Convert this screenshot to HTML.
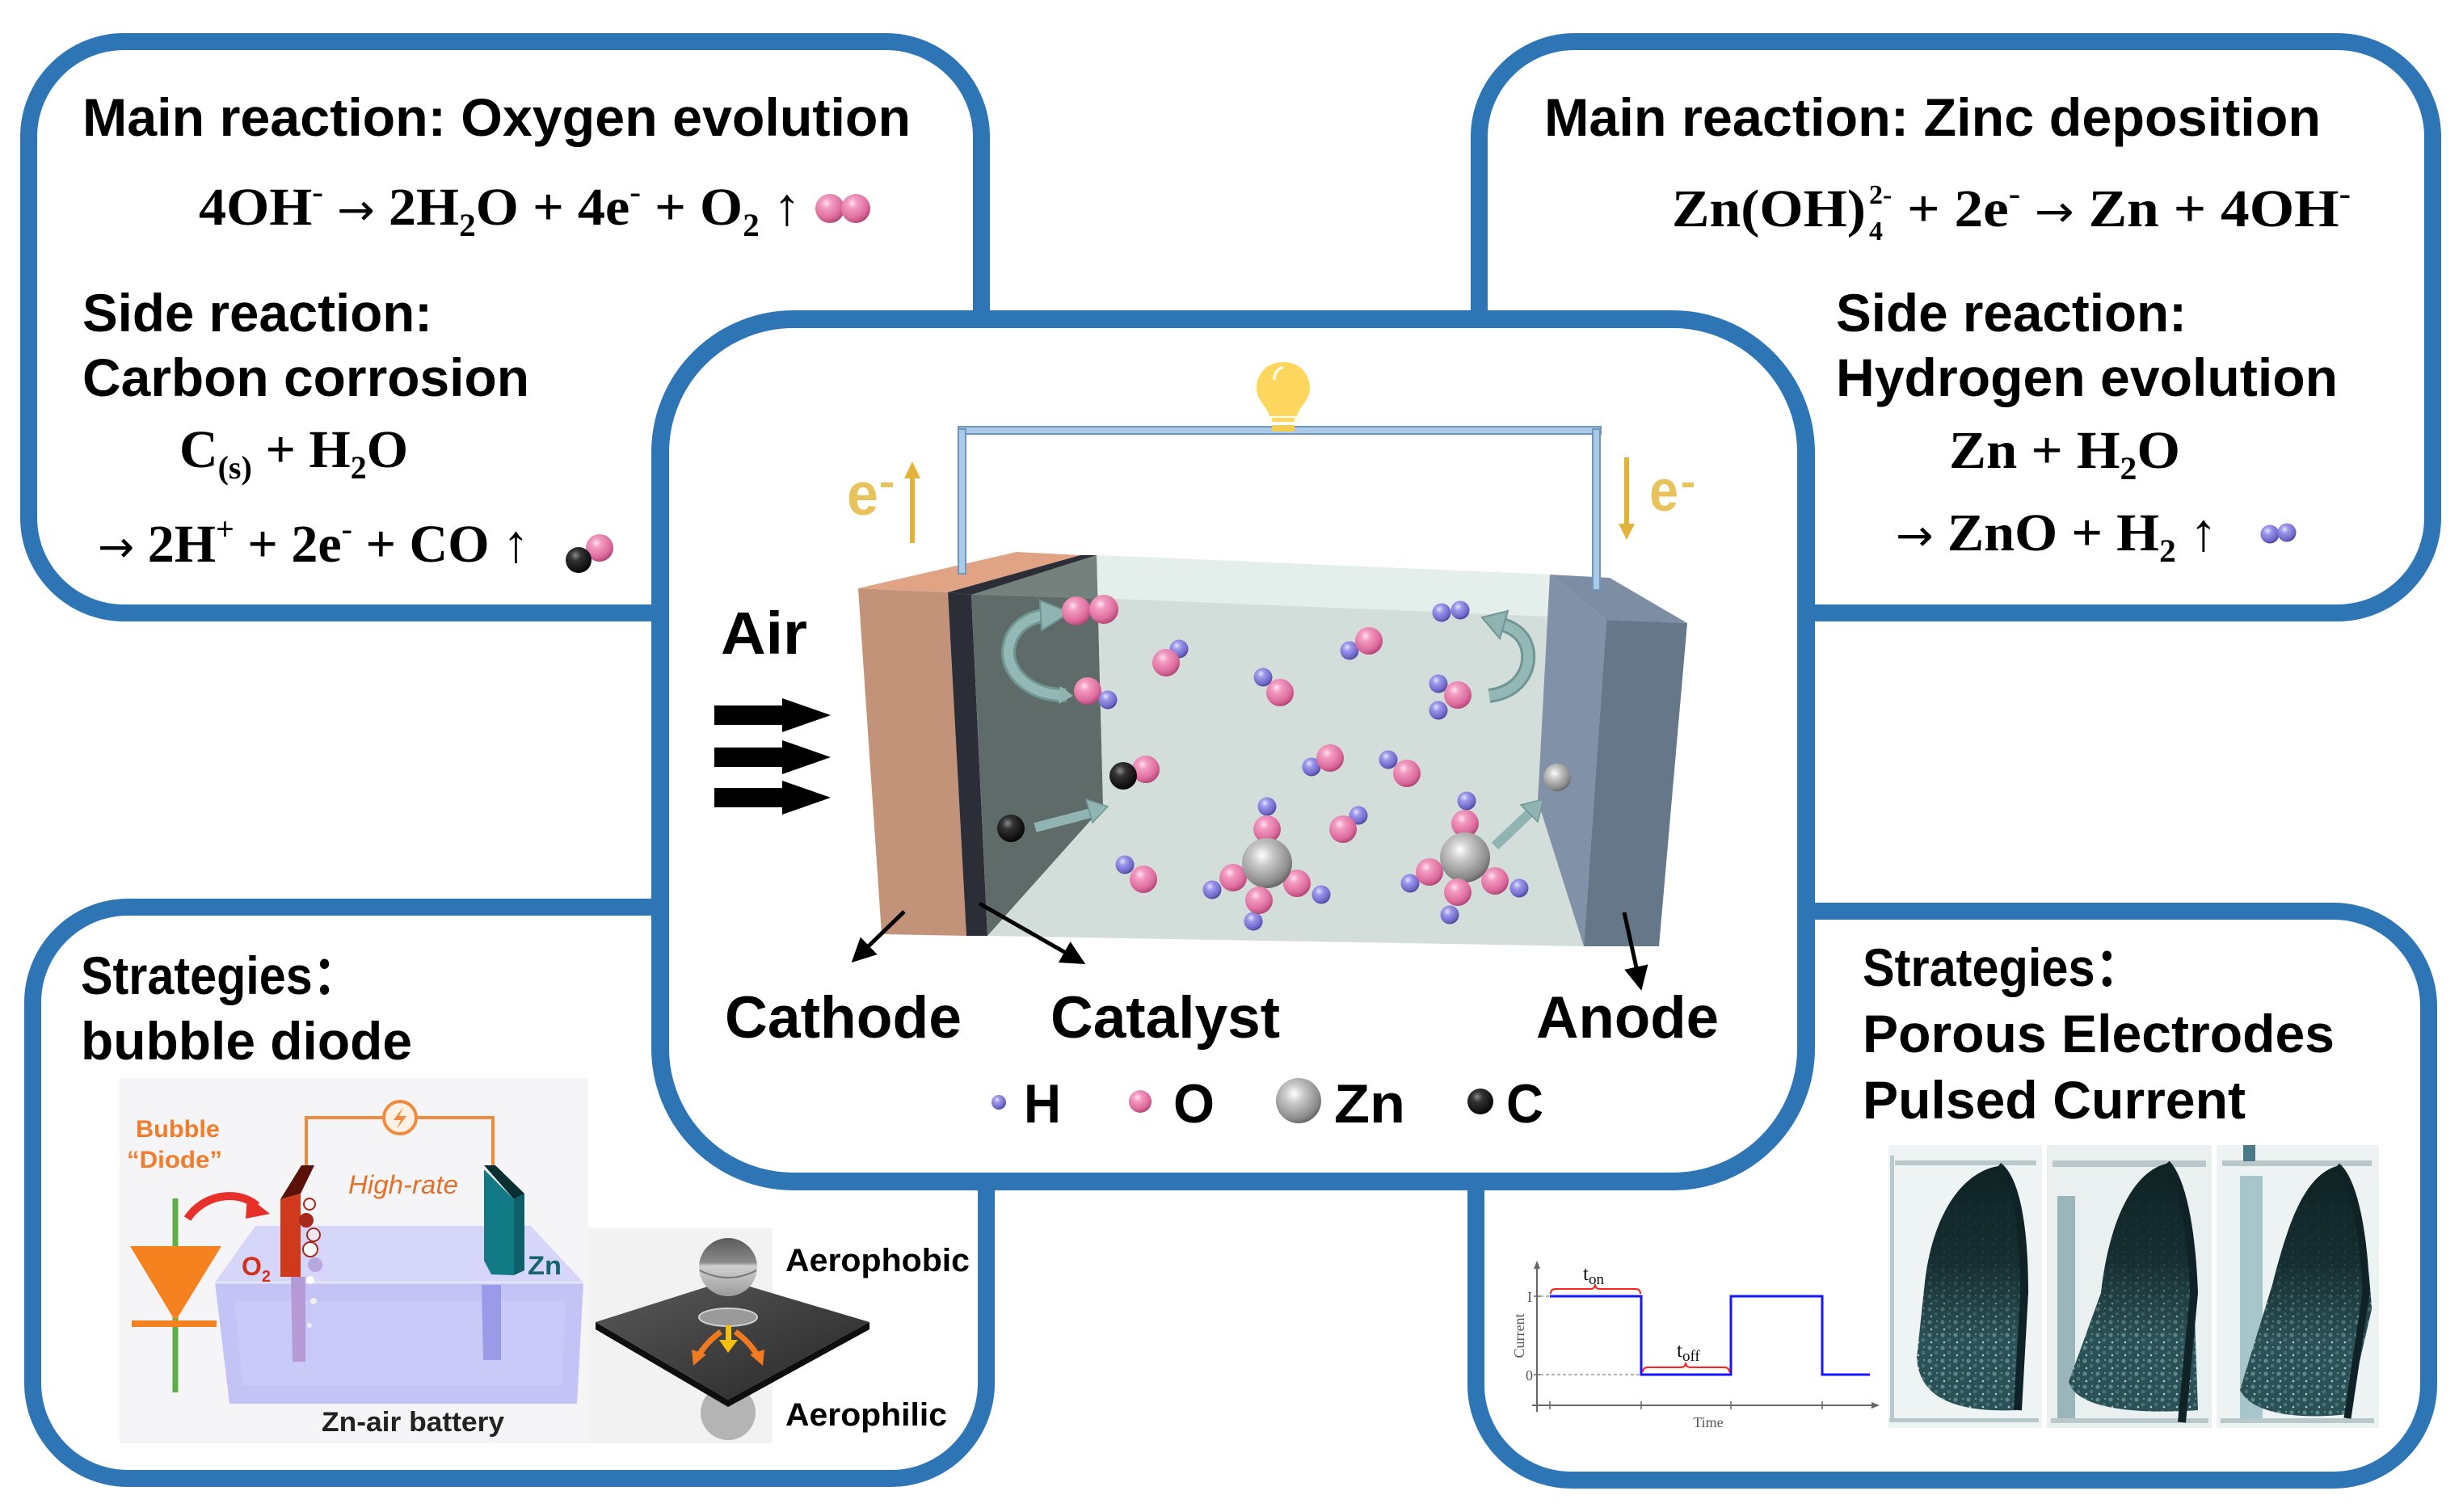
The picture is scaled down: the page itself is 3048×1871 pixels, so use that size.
<!DOCTYPE html>
<html>
<head>
<meta charset="utf-8">
<style>
html,body{margin:0;padding:0;background:#fff;}
svg{display:block;}
.h{font-family:"Liberation Sans",Arial,"Noto Sans CJK SC",sans-serif;font-weight:700;font-size:66px;fill:#000;}
.eq{font-family:"Liberation Serif","Times New Roman",serif;font-weight:700;font-size:66px;fill:#000;}
.lb{font-family:"Liberation Sans",Arial,sans-serif;font-weight:700;fill:#000;}
.sm{font-family:"Liberation Serif","Times New Roman",serif;fill:#555;}
.ar{font-family:"DejaVu Sans",sans-serif;font-weight:400;font-size:54px;}
</style>
</head>
<body>
<svg width="3048" height="1871" viewBox="0 0 3048 1871" xmlns="http://www.w3.org/2000/svg">
<defs>
  <radialGradient id="gP" cx="0.38" cy="0.32" r="0.7">
    <stop offset="0" stop-color="#ffe3f0"/><stop offset="0.25" stop-color="#f39cc2"/><stop offset="0.75" stop-color="#dc6b9c"/><stop offset="1" stop-color="#b24676"/>
  </radialGradient>
  <radialGradient id="gH" cx="0.38" cy="0.32" r="0.7">
    <stop offset="0" stop-color="#e6e4ff"/><stop offset="0.3" stop-color="#9d97ea"/><stop offset="0.8" stop-color="#6f67c8"/><stop offset="1" stop-color="#4a4396"/>
  </radialGradient>
  <radialGradient id="gC" cx="0.38" cy="0.32" r="0.7">
    <stop offset="0" stop-color="#8a8a8a"/><stop offset="0.3" stop-color="#333"/><stop offset="1" stop-color="#050505"/>
  </radialGradient>
  <radialGradient id="gZ" cx="0.4" cy="0.35" r="0.7">
    <stop offset="0" stop-color="#ffffff"/><stop offset="0.3" stop-color="#c9c9c9"/><stop offset="0.8" stop-color="#8a8a8a"/><stop offset="1" stop-color="#5a5a5a"/>
  </radialGradient>
  <linearGradient id="gSph" x1="0" y1="0" x2="0" y2="1">
    <stop offset="0" stop-color="#5a5a5a"/><stop offset="0.42" stop-color="#8a8a8a"/><stop offset="0.48" stop-color="#cfcfcf"/><stop offset="1" stop-color="#9c9c9c"/>
  </linearGradient>
  <linearGradient id="gPlate" x1="0" y1="0" x2="1" y2="1">
    <stop offset="0" stop-color="#5a5a5a"/><stop offset="1" stop-color="#262626"/>
  </linearGradient>
  <linearGradient id="gDk" x1="0" y1="0" x2="0" y2="1">
    <stop offset="0" stop-color="#0f2224" stop-opacity="1"/><stop offset="0.4" stop-color="#12282a" stop-opacity="0.85"/><stop offset="0.7" stop-color="#12282a" stop-opacity="0"/>
  </linearGradient>
  <pattern id="spk" width="16" height="16" patternUnits="userSpaceOnUse">
    <rect width="16" height="16" fill="#2b5055"/>
    <circle cx="4" cy="4" r="2.6" fill="#5a888b"/>
    <circle cx="12" cy="10" r="2.3" fill="#467377"/>
    <circle cx="6" cy="13" r="1.3" fill="#b0cccc"/>
    <circle cx="13" cy="3" r="1" fill="#84a9ab"/>
  </pattern>
  <marker id="ah" viewBox="0 0 10 10" refX="8" refY="5" markerWidth="6" markerHeight="6" orient="auto" markerUnits="strokeWidth">
    <path d="M0,0 L10,5 L0,10 z" fill="#000"/>
  </marker>
  <marker id="ahg" viewBox="0 0 10 10" refX="8" refY="5" markerWidth="5" markerHeight="5" orient="auto" markerUnits="strokeWidth">
    <path d="M0,1 L10,5 L0,9 z" fill="#666"/>
  </marker>
</defs>

<rect width="3048" height="1871" fill="#fff"/>

<!-- corner boxes -->
<g fill="#fff" stroke="#2e75b6" stroke-width="21">
  <rect x="35.5" y="51.5" width="1179" height="707" rx="118"/>
  <rect x="1830.5" y="51.5" width="1180" height="707" rx="118"/>
  <rect x="40.5" y="1122.5" width="1180" height="707" rx="118"/>
  <rect x="1826.5" y="1127.5" width="1179" height="704" rx="118"/>
</g>
<!-- center box -->
<rect x="817" y="395" width="1418" height="1067" rx="165" fill="#fff" stroke="#2e75b6" stroke-width="22"/>

<!-- ============ TOP LEFT ============ -->
<text class="h" x="102" y="168" textLength="1025" lengthAdjust="spacingAndGlyphs">Main reaction: Oxygen evolution</text>
<text class="eq" x="246" y="278" textLength="745" lengthAdjust="spacingAndGlyphs">4OH<tspan font-size="40" dy="-27">-</tspan><tspan dy="27"> </tspan><tspan class="ar">→</tspan><tspan> 2H</tspan><tspan font-size="40" dy="14">2</tspan><tspan dy="-14">O + 4e</tspan><tspan font-size="40" dy="-27">-</tspan><tspan dy="27"> + O</tspan><tspan font-size="40" dy="14">2</tspan><tspan dy="-14"> ↑</tspan></text>
<circle cx="1027" cy="258" r="18" fill="url(#gP)"/>
<circle cx="1059" cy="258" r="18" fill="url(#gP)"/>
<text class="h" x="102" y="410" textLength="433" lengthAdjust="spacingAndGlyphs">Side reaction:</text>
<text class="h" x="102" y="490" textLength="553" lengthAdjust="spacingAndGlyphs">Carbon corrosion</text>
<text class="eq" x="222" y="578" textLength="283" lengthAdjust="spacingAndGlyphs">C<tspan font-size="40" dy="14">(s)</tspan><tspan dy="-14"> + H</tspan><tspan font-size="40" dy="14">2</tspan><tspan dy="-14">O</tspan></text>
<text class="eq" x="121" y="695" textLength="534" lengthAdjust="spacingAndGlyphs"><tspan class="ar">→</tspan><tspan> 2H</tspan><tspan font-size="40" dy="-27">+</tspan><tspan dy="27"> + 2e</tspan><tspan font-size="40" dy="-27">-</tspan><tspan dy="27"> + CO ↑</tspan></text>
<circle cx="742" cy="678" r="17" fill="url(#gP)"/>
<circle cx="716" cy="693" r="16" fill="url(#gC)"/>

<!-- ============ TOP RIGHT ============ -->
<text class="h" x="1911" y="168" textLength="961" lengthAdjust="spacingAndGlyphs">Main reaction: Zinc deposition</text>
<text class="eq" x="2069" y="280" textLength="240" lengthAdjust="spacingAndGlyphs">Zn(OH)</text>
<text class="eq" x="2313" y="297" style="font-size:34px">4</text>
<text class="eq" x="2313" y="252" style="font-size:34px">2-</text>
<text class="eq" x="2360" y="280" textLength="549" lengthAdjust="spacingAndGlyphs">+ 2e<tspan font-size="40" dy="-27">-</tspan><tspan dy="27"> </tspan><tspan class="ar">→</tspan><tspan> Zn + 4OH</tspan><tspan font-size="40" dy="-27">-</tspan></text>
<text class="h" x="2272" y="410" textLength="434" lengthAdjust="spacingAndGlyphs">Side reaction:</text>
<text class="h" x="2272" y="490" textLength="621" lengthAdjust="spacingAndGlyphs">Hydrogen evolution</text>
<text class="eq" x="2412" y="579" textLength="286" lengthAdjust="spacingAndGlyphs">Zn + H<tspan font-size="40" dy="14">2</tspan><tspan dy="-14">O</tspan></text>
<text class="eq" x="2346" y="681" textLength="398" lengthAdjust="spacingAndGlyphs"><tspan class="ar">→</tspan><tspan> ZnO + H</tspan><tspan font-size="40" dy="14">2</tspan><tspan dy="-14"> ↑</tspan></text>
<circle cx="2809" cy="661" r="11.5" fill="url(#gH)"/>
<circle cx="2830" cy="659" r="11.5" fill="url(#gH)"/>

<!-- ============ CENTER CELL ============ -->
<polygon points="1357,687 1918,711 1903,991 1960,1171 1222,1158 1365,998" fill="#d3dedb"/>
<polygon points="1357,687 1918,711 1918,763 1357,740" fill="#e4efec"/>
<polygon points="1062,728 1258,683 1337,687 1173,733" fill="#e0a485"/>
<polygon points="1062,728 1173,733 1196,1158 1091,1156" fill="#c39379"/>
<polygon points="1173,733 1337,687 1357,687 1202,736" fill="#2b2e37"/>
<polygon points="1173,733 1202,736 1222,1158 1196,1158" fill="#2b2e37"/>
<polygon points="1202,736 1357,687 1365,998 1222,1158" fill="#5f6b68"/>
<polygon points="1202,736 1357,687 1358,741" fill="#74817d"/>
<polygon points="1918,711 1992,715 2088,771 1988,767" fill="#7d8da3"/>
<polygon points="1918,711 1988,767 1960,1171 1903,991" fill="#8191a7"/>
<polygon points="1988,767 2088,771 2053,1171 1960,1171" fill="#67778a"/>

<!-- wires -->
<rect x="1186" y="528" width="795" height="9" fill="#a9cbe8" stroke="#6f95bd" stroke-width="2"/>
<rect x="1186" y="531" width="9" height="179" fill="#a9cbe8" stroke="#6f95bd" stroke-width="2"/>
<rect x="1971" y="531" width="9" height="199" fill="#a9cbe8" stroke="#6f95bd" stroke-width="2"/>
<!-- bulb -->
<path d="M1588,448 C1610,448 1622,465 1621,482 C1620,496 1608,503 1605,515 L1571,515 C1568,503 1556,496 1555,482 C1554,465 1566,448 1588,448 Z" fill="#ffd75e"/>
<path d="M1577,470 C1577,460 1583,455 1588,455" stroke="#fff" stroke-width="3" fill="none"/>
<rect x="1574" y="517" width="28" height="5" rx="2" fill="#ffd75e"/>
<rect x="1574" y="526" width="28" height="8" rx="2" fill="#f3cc52"/>

<!-- electron arrows -->
<rect x="1126" y="586" width="6" height="86" fill="#e2b33a"/>
<polygon points="1119,592 1129,571 1139,592" fill="#e2b33a"/>
<text class="lb" x="1048" y="637" font-size="74" style="fill:#e8c35b" textLength="39" lengthAdjust="spacingAndGlyphs">e</text>
<rect x="1090" y="597" width="15" height="6" fill="#e8c35b"/>
<rect x="2010" y="566" width="6" height="86" fill="#e2b33a"/>
<polygon points="2003,648 2013,668 2023,648" fill="#e2b33a"/>
<text class="lb" x="2041" y="632" font-size="72" style="fill:#e8c35b" textLength="36" lengthAdjust="spacingAndGlyphs">e</text>
<rect x="2082" y="597" width="14" height="6" fill="#e8c35b"/>

<!-- curved arrows -->
<path d="M1320,860 C1275,862 1246,832 1248,805 C1250,780 1268,765 1294,761" stroke="#6f9693" stroke-width="18" fill="none"/>
<path d="M1320,860 C1275,862 1246,832 1248,805 C1250,780 1268,765 1294,761" stroke="#93b8b5" stroke-width="12" fill="none"/>
<polygon points="1287,743 1324,758 1289,780" fill="#8fb4b1" stroke="#6f9693" stroke-width="2"/>
<polygon points="1312,849 1328,861 1310,871" fill="#8fb4b1"/>
<path d="M1843,861 C1880,856 1893,830 1891,808 C1889,790 1878,779 1860,773" stroke="#6f9693" stroke-width="18" fill="none"/>
<path d="M1843,861 C1880,856 1893,830 1891,808 C1889,790 1878,779 1860,773" stroke="#93b8b5" stroke-width="12" fill="none"/>
<polygon points="1834,764 1866,756 1856,790" fill="#8fb4b1" stroke="#6f9693" stroke-width="2"/>
<line x1="1281" y1="1024" x2="1350" y2="1006" stroke="#8fb4b1" stroke-width="12"/>
<polygon points="1371,998 1344,989 1352,1018" fill="#8fb4b1" stroke="#6f9693" stroke-width="1.5"/>
<line x1="1850" y1="1047" x2="1893" y2="1006" stroke="#8fb4b1" stroke-width="12"/>
<polygon points="1910,989 1882,996 1903,1017" fill="#8fb4b1" stroke="#6f9693" stroke-width="1.5"/>

<!-- molecules -->
<g>
  <circle cx="1332" cy="756" r="18" fill="url(#gP)"/>
  <circle cx="1366" cy="754" r="18" fill="url(#gP)"/>
  <circle cx="1346" cy="855" r="17" fill="url(#gP)"/>
  <circle cx="1371" cy="866" r="11.5" fill="url(#gH)"/>
  <circle cx="1459" cy="803" r="11.5" fill="url(#gH)"/>
  <circle cx="1443" cy="820" r="17" fill="url(#gP)"/>
  <circle cx="1563" cy="838" r="11.5" fill="url(#gH)"/>
  <circle cx="1584" cy="857" r="17" fill="url(#gP)"/>
  <circle cx="1670" cy="805" r="11.5" fill="url(#gH)"/>
  <circle cx="1694" cy="793" r="17" fill="url(#gP)"/>
  <circle cx="1784" cy="758" r="11.5" fill="url(#gH)"/>
  <circle cx="1807" cy="755" r="11.5" fill="url(#gH)"/>
  <circle cx="1780" cy="846" r="11.5" fill="url(#gH)"/>
  <circle cx="1780" cy="879" r="11.5" fill="url(#gH)"/>
  <circle cx="1804" cy="860" r="17" fill="url(#gP)"/>
  <circle cx="1418" cy="952" r="17" fill="url(#gP)"/>
  <circle cx="1390" cy="960" r="17" fill="url(#gC)"/>
  <circle cx="1251" cy="1025" r="17" fill="url(#gC)"/>
  <circle cx="1623" cy="949" r="11.5" fill="url(#gH)"/>
  <circle cx="1646" cy="938" r="17" fill="url(#gP)"/>
  <circle cx="1718" cy="940" r="11.5" fill="url(#gH)"/>
  <circle cx="1741" cy="957" r="17" fill="url(#gP)"/>
  <circle cx="1927" cy="962" r="17" fill="url(#gZ)"/>
  <circle cx="1681" cy="1009" r="11.5" fill="url(#gH)"/>
  <circle cx="1662" cy="1026" r="17" fill="url(#gP)"/>
  <circle cx="1392" cy="1070" r="11.5" fill="url(#gH)"/>
  <circle cx="1415" cy="1088" r="17" fill="url(#gP)"/>
  <circle cx="1568" cy="998" r="11.5" fill="url(#gH)"/>
  <circle cx="1500" cy="1101" r="11.5" fill="url(#gH)"/>
  <circle cx="1635" cy="1107" r="11.5" fill="url(#gH)"/>
  <circle cx="1551" cy="1140" r="11.5" fill="url(#gH)"/>
  <circle cx="1568" cy="1026" r="17" fill="url(#gP)"/>
  <circle cx="1526" cy="1086" r="17" fill="url(#gP)"/>
  <circle cx="1605" cy="1093" r="17" fill="url(#gP)"/>
  <circle cx="1568" cy="1068" r="31" fill="url(#gZ)"/>
  <circle cx="1558" cy="1114" r="17" fill="url(#gP)"/>
  <circle cx="1815" cy="991" r="11.5" fill="url(#gH)"/>
  <circle cx="1745" cy="1093" r="11.5" fill="url(#gH)"/>
  <circle cx="1880" cy="1099" r="11.5" fill="url(#gH)"/>
  <circle cx="1794" cy="1132" r="11.5" fill="url(#gH)"/>
  <circle cx="1813" cy="1019" r="17" fill="url(#gP)"/>
  <circle cx="1769" cy="1079" r="17" fill="url(#gP)"/>
  <circle cx="1850" cy="1090" r="17" fill="url(#gP)"/>
  <circle cx="1813" cy="1061" r="31" fill="url(#gZ)"/>
  <circle cx="1804" cy="1104" r="17" fill="url(#gP)"/>
</g>

<!-- Air -->
<text class="lb" x="892" y="809" font-size="74" textLength="107" lengthAdjust="spacingAndGlyphs">Air</text>
<g fill="#000">
  <rect x="884" y="873" width="86" height="24"/><polygon points="968,864 1028,885 968,906"/>
  <rect x="884" y="925" width="86" height="24"/><polygon points="968,916 1028,937 968,958"/>
  <rect x="884" y="975" width="86" height="24"/><polygon points="968,966 1028,987 968,1008"/>
</g>

<!-- pointer arrows -->
<line x1="1119" y1="1128" x2="1058" y2="1187" stroke="#000" stroke-width="5" marker-end="url(#ah)"/>
<line x1="1212" y1="1118" x2="1338" y2="1190" stroke="#000" stroke-width="5" marker-end="url(#ah)"/>
<line x1="2010" y1="1129" x2="2030" y2="1220" stroke="#000" stroke-width="5" marker-end="url(#ah)"/>

<text class="lb" x="897" y="1284" font-size="73" textLength="293" lengthAdjust="spacingAndGlyphs">Cathode</text>
<text class="lb" x="1300" y="1284" font-size="73" textLength="284" lengthAdjust="spacingAndGlyphs">Catalyst</text>
<text class="lb" x="1901" y="1284" font-size="73" textLength="226" lengthAdjust="spacingAndGlyphs">Anode</text>

<!-- legend -->
<circle cx="1236" cy="1364" r="9" fill="url(#gH)"/>
<text class="lb" x="1267" y="1389" font-size="68" textLength="46" lengthAdjust="spacingAndGlyphs">H</text>
<circle cx="1411" cy="1363" r="14" fill="url(#gP)"/>
<text class="lb" x="1452" y="1389" font-size="68" textLength="51" lengthAdjust="spacingAndGlyphs">O</text>
<circle cx="1607" cy="1362" r="28" fill="url(#gZ)"/>
<text class="lb" x="1651" y="1389" font-size="68" textLength="88" lengthAdjust="spacingAndGlyphs">Zn</text>
<circle cx="1832" cy="1363" r="16" fill="url(#gC)"/>
<text class="lb" x="1864" y="1389" font-size="68" textLength="46" lengthAdjust="spacingAndGlyphs">C</text>

<!-- ============ BOTTOM LEFT ============ -->
<text class="h" x="100" y="1230" textLength="346" lengthAdjust="spacingAndGlyphs">Strategies：</text>
<text class="h" x="100" y="1311" textLength="410" lengthAdjust="spacingAndGlyphs">bubble diode</text>

<rect x="148" y="1334" width="580" height="452" fill="#f5f5f7"/>
<rect x="728" y="1520" width="228" height="266" fill="#f2f2f2"/>
<path d="M379,1442 V1383 H610 V1442" stroke="#f08a3c" stroke-width="4" fill="none"/>
<circle cx="495" cy="1383" r="20" fill="#fff1e4" stroke="#f08a3c" stroke-width="4"/>
<path d="M499,1370 L487,1386 L496,1386 L491,1397 L503,1381 L494,1381 Z" fill="#f08a3c"/>
<text class="lb" x="168" y="1407" font-size="30" style="fill:#f07d2c" textLength="104" lengthAdjust="spacingAndGlyphs">Bubble</text>
<text class="lb" x="157" y="1445" font-size="30" style="fill:#f07d2c" textLength="118" lengthAdjust="spacingAndGlyphs">“Diode”</text>
<line x1="217" y1="1483" x2="217" y2="1723" stroke="#5cb046" stroke-width="7"/>
<polygon points="161,1542 274,1542 217,1635" fill="#f5821f"/>
<rect x="163" y="1634" width="105" height="8" fill="#f5821f"/>
<path d="M232,1508 C250,1480 292,1470 318,1492" stroke="#e8302a" stroke-width="10" fill="none"/>
<polygon points="306,1480 334,1502 304,1508" fill="#e8302a"/>
<polygon points="316,1517 657,1517 722,1587 266,1587" fill="#d6d6fb"/>
<polygon points="266,1587 722,1587 714,1737 284,1737" fill="#c3c3f5"/>
<polygon points="290,1610 700,1610 695,1715 300,1715" fill="#cacaf8"/>
<line x1="266" y1="1587" x2="722" y2="1587" stroke="#e6e6ff" stroke-width="3"/>
<polygon points="347,1484 373,1442 389,1442 372,1477" fill="#5a1208"/>
<polygon points="347,1484 372,1477 372,1580 347,1580" fill="#d03a1c"/>
<polygon points="360,1580 378,1580 378,1685 362,1685" fill="#b59ad6"/>
<circle cx="383" cy="1490" r="7" fill="none" stroke="#a8281a" stroke-width="2"/>
<circle cx="379" cy="1510" r="9" fill="#a8281a"/>
<circle cx="388" cy="1528" r="8" fill="#f0e8f0" stroke="#a8281a" stroke-width="2"/>
<circle cx="384" cy="1546" r="9" fill="#fff" stroke="#a8281a" stroke-width="2"/>
<circle cx="390" cy="1565" r="9" fill="#b8a8e0"/>
<circle cx="384" cy="1584" r="5" fill="#fff"/>
<circle cx="388" cy="1610" r="4" fill="#eee"/>
<circle cx="383" cy="1640" r="3" fill="#eee"/>
<text x="431" y="1477" font-family="Liberation Sans, Arial, sans-serif" font-style="italic" font-size="32" fill="#e0702a" textLength="136" lengthAdjust="spacingAndGlyphs">High-rate</text>
<polygon points="599,1442 613,1442 649,1477 636,1484" fill="#0a2f33"/>
<polygon points="599,1447 636,1484 636,1578 608,1577 599,1560" fill="#127a84"/>
<polygon points="636,1484 649,1477 649,1572 636,1578" fill="#0d6069"/>
<polygon points="596,1590 620,1590 620,1683 598,1683" fill="#9a9ae8"/>
<text class="lb" x="653" y="1577" font-size="32" style="fill:#16646c" textLength="42" lengthAdjust="spacingAndGlyphs">Zn</text>
<text class="lb" x="299" y="1578" font-size="32" style="fill:#d0301c">O<tspan font-size="20" dy="8">2</tspan></text>
<text class="lb" x="398" y="1771" font-size="34" style="fill:#222" textLength="226" lengthAdjust="spacingAndGlyphs">Zn-air battery</text>
<circle cx="901" cy="1748" r="34" fill="#b4b4b4"/>
<polygon points="737,1636 901,1732 1076,1636 1076,1645 901,1741 737,1645" fill="#0e0e0e"/>
<polygon points="737,1636 901,1584 1076,1636 901,1732" fill="url(#gPlate)"/>
<ellipse cx="901" cy="1630" rx="36" ry="11" fill="#9a9a9a" stroke="#d0d0d0" stroke-width="2"/>
<circle cx="901" cy="1568" r="36" fill="url(#gSph)"/>
<path d="M866,1572 Q901,1590 936,1572" stroke="#777" stroke-width="2" fill="none"/>
<path d="M892,1648 Q875,1660 864,1678" stroke="#f07a20" stroke-width="7" fill="none"/>
<polygon points="856,1670 874,1676 858,1690" fill="#f07a20"/>
<path d="M910,1648 Q927,1660 938,1678" stroke="#f07a20" stroke-width="7" fill="none"/>
<polygon points="946,1670 928,1676 944,1690" fill="#f07a20"/>
<rect x="898" y="1640" width="7" height="20" fill="#f5c010"/>
<polygon points="890,1658 913,1658 901,1674" fill="#f5c010"/>
<text class="lb" x="972" y="1573" font-size="40" textLength="228" lengthAdjust="spacingAndGlyphs">Aerophobic</text>
<text class="lb" x="972" y="1764" font-size="40" textLength="200" lengthAdjust="spacingAndGlyphs">Aerophilic</text>

<!-- ============ BOTTOM RIGHT ============ -->
<text class="h" x="2305" y="1220" textLength="347" lengthAdjust="spacingAndGlyphs">Strategies：</text>
<text class="h" x="2305" y="1302" textLength="584" lengthAdjust="spacingAndGlyphs">Porous Electrodes</text>
<text class="h" x="2305" y="1384" textLength="474" lengthAdjust="spacingAndGlyphs">Pulsed Current</text>

<line x1="1902" y1="1747" x2="1902" y2="1562" stroke="#666" stroke-width="2" marker-end="url(#ahg)"/>
<line x1="1896" y1="1739" x2="2324" y2="1739" stroke="#666" stroke-width="2" marker-end="url(#ahg)"/>
<g stroke="#666" stroke-width="1.5">
  <line x1="1918" y1="1734" x2="1918" y2="1744"/>
  <line x1="2031" y1="1734" x2="2031" y2="1744"/>
  <line x1="2142" y1="1734" x2="2142" y2="1744"/>
  <line x1="2255" y1="1734" x2="2255" y2="1744"/>
  <line x1="1898" y1="1604" x2="1906" y2="1604"/>
  <line x1="1898" y1="1701" x2="1906" y2="1701"/>
</g>
<g stroke="#999" stroke-width="1.5" stroke-dasharray="4 3">
  <line x1="1906" y1="1604" x2="1918" y2="1604"/>
  <line x1="1906" y1="1701" x2="2031" y2="1701"/>
</g>
<path d="M1918,1604 H2031 V1701 H2142 V1604 H2255 V1701 H2314" stroke="#1515ff" stroke-width="3" fill="none"/>
<path d="M1919,1601 q0,-6 6,-6 H1968 q6,0 6,-6 q0,6 6,6 H2024 q6,0 6,6" stroke="#ff2020" stroke-width="2" fill="none"/>
<path d="M2033,1698 q0,-6 6,-6 H2080 q6,0 6,-6 q0,6 6,6 H2134 q6,0 6,6" stroke="#ff2020" stroke-width="2" fill="none"/>
<text class="sm" x="1959" y="1584" font-size="25" style="fill:#111">t<tspan font-size="19" dy="5">on</tspan></text>
<text class="sm" x="2075" y="1679" font-size="25" style="fill:#111">t<tspan font-size="19" dy="5">off</tspan></text>
<text class="sm" x="1890" y="1611" font-size="18">I</text>
<text class="sm" x="1888" y="1708" font-size="18">0</text>
<text class="sm" x="1886" y="1653" font-size="18" text-anchor="middle" transform="rotate(-90 1886 1653)">Current</text>
<text class="sm" x="2114" y="1766" font-size="18" text-anchor="middle">Time</text>

<rect x="2337" y="1417" width="190" height="350" fill="#eef3f3"/>
<rect x="2533" y="1417" width="204" height="350" fill="#eaf0f0"/>
<rect x="2743" y="1417" width="201" height="350" fill="#edf2f2"/>
<g fill="#b9c8ca">
  <rect x="2339" y="1430" width="5" height="330"/>
  <rect x="2345" y="1436" width="175" height="6"/>
  <rect x="2338" y="1755" width="185" height="5"/>
  <rect x="2540" y="1436" width="190" height="8"/>
  <rect x="2538" y="1755" width="195" height="6"/>
  <rect x="2750" y="1436" width="185" height="7"/>
  <rect x="2748" y="1755" width="190" height="6"/>
</g>
<rect x="2546" y="1480" width="22" height="275" fill="#9bb6bb"/>
<rect x="2772" y="1455" width="28" height="300" fill="#a6c6cc"/>
<rect x="2776" y="1417" width="15" height="20" fill="#4a7a88"/>
<path d="M2473,1443 C2430,1450 2392,1500 2382,1587 L2372,1680 C2375,1730 2420,1748 2495,1745 L2505,1600 C2505,1520 2495,1460 2473,1443 Z" fill="url(#spk)"/>
<path d="M2473,1443 C2430,1450 2392,1500 2382,1587 L2372,1680 C2375,1730 2420,1748 2495,1745 L2505,1600 C2505,1520 2495,1460 2473,1443 Z" fill="url(#gDk)"/>
<path d="M2473,1443 C2495,1460 2505,1520 2505,1600 L2497,1745" stroke="#0f2326" stroke-width="10" fill="none"/>
<path d="M2681,1440 C2640,1450 2610,1510 2600,1600 L2560,1710 C2570,1745 2650,1750 2720,1745 L2715,1600 C2712,1520 2700,1460 2681,1440 Z" fill="url(#spk)"/>
<path d="M2681,1440 C2640,1450 2610,1510 2600,1600 L2560,1710 C2570,1745 2650,1750 2720,1745 L2715,1600 C2712,1520 2700,1460 2681,1440 Z" fill="url(#gDk)"/>
<path d="M2681,1440 C2700,1460 2712,1520 2715,1600 L2700,1760" stroke="#0f2326" stroke-width="10" fill="none"/>
<path d="M2892,1443 C2850,1455 2830,1520 2812,1590 L2772,1720 C2790,1755 2860,1755 2905,1750 L2935,1620 C2930,1530 2912,1460 2892,1443 Z" fill="url(#spk)"/>
<path d="M2892,1443 C2850,1455 2830,1520 2812,1590 L2772,1720 C2790,1755 2860,1755 2905,1750 L2935,1620 C2930,1530 2912,1460 2892,1443 Z" fill="url(#gDk)"/>
<path d="M2892,1443 C2912,1460 2925,1520 2928,1600 L2905,1755" stroke="#0f2326" stroke-width="9" fill="none"/>

</svg>
</body>
</html>
